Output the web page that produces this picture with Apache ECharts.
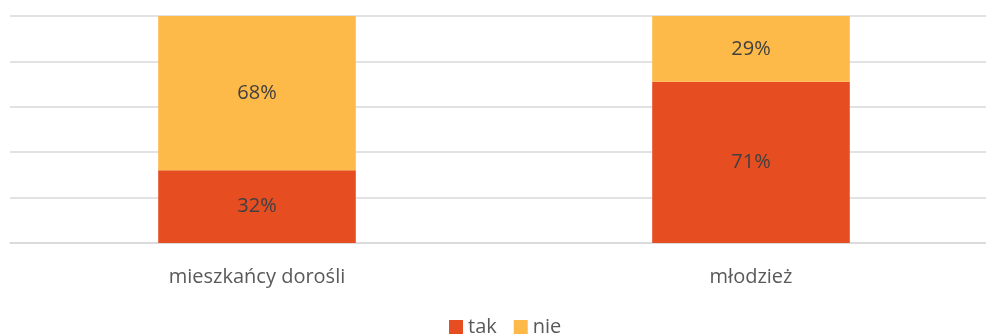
<!DOCTYPE html>
<html>
<head>
<meta charset="utf-8">
<style>
  html, body { margin: 0; padding: 0; background: #ffffff; overflow: hidden; }
  #chart { width: 1000px; height: 334px; }
</style>
<script src="https://cdn.jsdelivr.net/npm/echarts@6/dist/echarts.min.js"></script>
</head>
<body>
<div id="chart"></div>
<script>
// Share of answers per group (percent)
const categories = ['mieszkańcy dorośli', 'młodzież'];
const takValues = [32, 71];
const nieValues = [68, 29];
const seriesNames = ['tak', 'nie'];

const FONT = '"Open Sans", sans-serif';
const chart = echarts.init(document.getElementById('chart'), null, { renderer: 'canvas' });

const labelStyle = {
  show: true,
  position: 'inside',
  formatter: p => p.value + '%',
  color: '#404040',
  fontFamily: FONT,
  fontSize: 20
};

chart.setOption({
  animation: false,
  backgroundColor: '#ffffff',
  grid: { left: 10, top: 16, width: 988, height: 227, containLabel: false },
  legend: {
    data: seriesNames,
    left: 444,
    top: 312,
    icon: 'rect',
    itemWidth: 14,
    itemHeight: 14,
    itemGap: 17,
    textStyle: { color: '#595959', fontFamily: FONT, fontSize: 20 }
  },
  xAxis: {
    type: 'category',
    data: categories,
    axisLine: { show: true, lineStyle: { color: '#d9d9d9', width: 1.5 } },
    axisTick: { show: false },
    axisLabel: { color: '#595959', fontFamily: FONT, fontSize: 20, margin: 24 }
  },
  yAxis: {
    type: 'value',
    min: 0,
    max: 100,
    interval: 20,
    axisLine: { show: false },
    axisTick: { show: false },
    axisLabel: { show: false },
    splitLine: { show: true, lineStyle: { color: '#d9d9d9', width: 1.5 } }
  },
  series: [
    {
      name: seriesNames[0],
      type: 'bar',
      stack: 'total',
      data: takValues,
      barCategoryGap: '60%',
      itemStyle: { color: '#E64E22' },
      label: labelStyle
    },
    {
      name: seriesNames[1],
      type: 'bar',
      stack: 'total',
      data: nieValues,
      barCategoryGap: '60%',
      itemStyle: { color: '#FEBA48' },
      label: labelStyle
    }
  ]
});
</script>
</body>
</html>
